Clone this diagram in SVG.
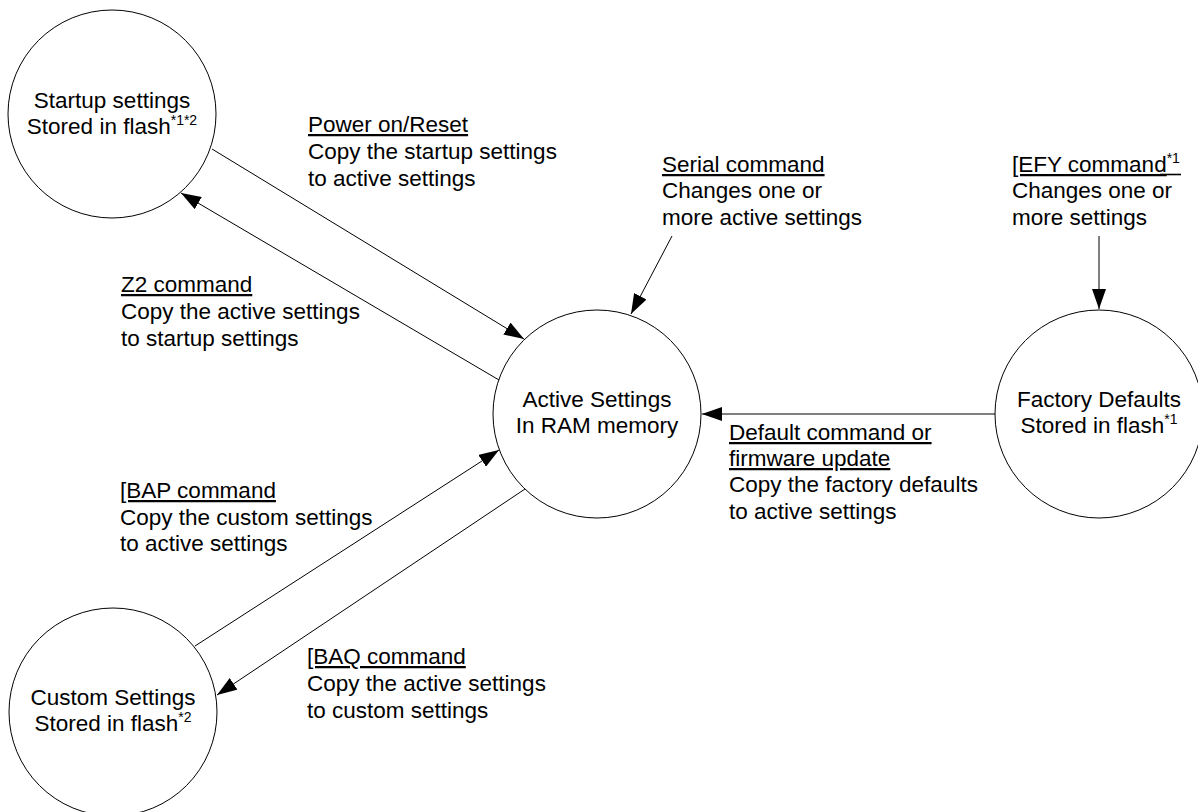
<svg xmlns="http://www.w3.org/2000/svg" width="1198" height="812" viewBox="0 0 1198 812">
<defs>
<style>
text{font-family:"Liberation Sans",Arial,sans-serif;font-size:22.5px;fill:#000}
.c{text-anchor:middle}
.u{text-decoration:underline}
.node circle{fill:#fff;stroke:#000;stroke-width:1}
.conn line{stroke:#000;stroke-width:1;marker-end:url(#ah)}
.sup{font-size:14px}
</style>
<marker id="ah" markerUnits="userSpaceOnUse" markerWidth="20" markerHeight="14" refX="20" refY="7" orient="auto">
<path d="M0,0 L20,7 L0,14 z" fill="#000"/>
</marker>
</defs>
<rect width="1198" height="812" fill="#fff"/>
<g id="connectors" class="conn">
<line x1="212" y1="149" x2="524" y2="339"/>
<line x1="499" y1="380" x2="181" y2="193"/>
<line x1="672" y1="236" x2="631" y2="314"/>
<line x1="1099" y1="236" x2="1099" y2="309"/>
<line x1="995" y1="414" x2="702" y2="414"/>
<line x1="195" y1="646" x2="499" y2="450"/>
<line x1="525" y1="489" x2="217" y2="695"/>
</g>
<g id="startup" class="node">
<circle cx="112" cy="114" r="104"/>
<text class="c" x="112" y="108">Startup settings</text>
<text class="c" x="112" y="134">Stored in flash<tspan class="sup" dy="-9">*1*2</tspan></text>
</g>
<g id="active" class="node">
<circle cx="597" cy="414" r="104"/>
<text class="c" x="597" y="407">Active Settings</text>
<text class="c" x="597" y="433">In RAM memory</text>
</g>
<g id="factory" class="node">
<circle cx="1099" cy="414" r="104"/>
<text class="c" x="1099" y="407">Factory Defaults</text>
<text class="c" x="1099" y="433">Stored in flash<tspan class="sup" dy="-9">*1</tspan></text>
</g>
<g id="custom" class="node">
<circle cx="113" cy="712" r="104"/>
<text class="c" x="113" y="705">Custom Settings</text>
<text class="c" x="113" y="731">Stored in flash<tspan class="sup" dy="-9">*2</tspan></text>
</g>
<g id="labels">
<text x="308" y="132" class="u">Power on/Reset</text>
<text x="308" y="159">Copy the startup settings</text>
<text x="308" y="186">to active settings</text>
<text x="121" y="292" class="u">Z2 command</text>
<text x="121" y="319">Copy the active settings</text>
<text x="121" y="346">to startup settings</text>
<text x="662" y="172" class="u">Serial command</text>
<text x="662" y="198">Changes one or</text>
<text x="662" y="225">more active settings</text>
<text x="1012" y="172"><tspan class="u">[EFY command</tspan><tspan class="sup" dy="-9">*1</tspan></text>
<line x1="1160" y1="174.5" x2="1181" y2="174.5" stroke="#000" stroke-width="1.6"/>
<text x="1012" y="198">Changes one or</text>
<text x="1012" y="225">more settings</text>
<text x="729" y="440" class="u">Default command or</text>
<text x="729" y="466" class="u">firmware update</text>
<text x="729" y="492">Copy the factory defaults</text>
<text x="729" y="519">to active settings</text>
<text x="120" y="498" class="u">[BAP command</text>
<text x="120" y="525">Copy the custom settings</text>
<text x="120" y="551">to active settings</text>
<text x="307" y="664" class="u">[BAQ command</text>
<text x="307" y="691">Copy the active settings</text>
<text x="307" y="718">to custom settings</text>
</g>
</svg>
